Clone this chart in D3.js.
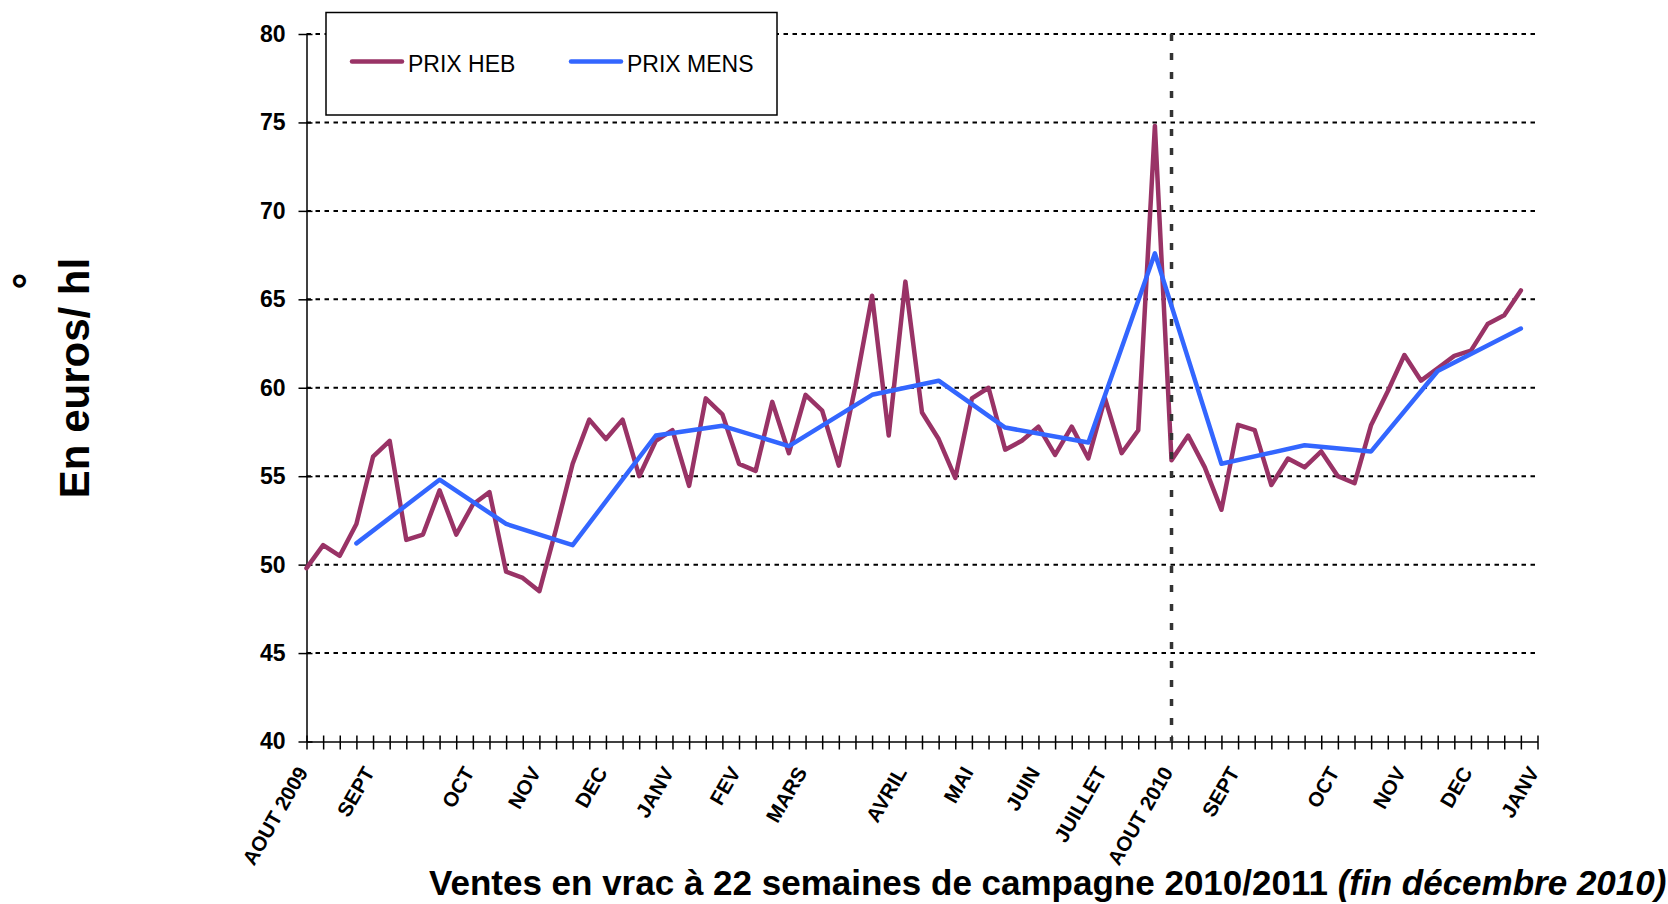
<!DOCTYPE html>
<html>
<head>
<meta charset="utf-8">
<script src="https://cdn.jsdelivr.net/npm/d3@7"></script>
<style>
    body { margin: 0; background: #ffffff; }
    svg { display: block; font-family: "Liberation Sans", Arial, sans-serif; }
</style>
</head>
<body>
<svg id="chart"></svg>
<script>
/**
 * Draw the chart on window load
 */
window.onload = function(){
    setupChart();
};

// weekly price (PRIX HEB), one value per week from AOUT 2009
const HEB_PRICES = [
    49.8, 51.1, 50.5, 52.3, 56.1, 57.0, 51.4, 51.7, 54.2, 51.7,
    53.4, 54.1, 49.6, 49.25, 48.5, 52.0, 55.7, 58.2, 57.1, 58.2,
    55.0, 57.0, 57.6, 54.45, 59.4, 58.5, 55.7, 55.3, 59.2, 56.3,
    59.6, 58.7, 55.6, 60.1, 65.2, 57.3, 66.0, 58.6, 57.1, 54.9,
    59.4, 60.0, 56.5, 57.0, 57.8, 56.2, 57.8, 56.0, 59.4, 56.3,
    57.6, 74.8, 55.9, 57.3, 55.5, 53.1, 57.9, 57.6, 54.5, 56.0,
    55.5, 56.4, 55.0, 54.6, 57.9, 59.8, 61.85, 60.4, 61.1, 61.8,
    62.1, 63.6, 64.1, 65.5
];

// monthly price (PRIX MENS), placed on the week it belongs to
const MENS_WEEKS = [3, 8, 12, 16, 21, 25, 29, 34, 38, 42, 47, 51, 55, 60, 64, 68, 73];
const MENS_PRICES = [51.2, 54.8, 52.3, 51.1, 57.3, 57.85, 56.7, 59.6, 60.4, 57.75, 56.9, 67.6, 55.7, 56.75, 56.4, 60.95, 63.35];

const MONTH_LABELS = ["AOUT 2009", "SEPT", "OCT", "NOV", "DEC", "JANV", "FEV", "MARS", "AVRIL",
    "MAI", "JUIN", "JUILLET", "AOUT 2010", "SEPT", "OCT", "NOV", "DEC", "JANV"];
const MONTH_WEEKS = [0, 4, 10, 14, 18, 22, 26, 30, 36, 40, 44, 48, 52, 56, 62, 66, 70, 74];

const Y_TICKS = [40, 45, 50, 55, 60, 65, 70, 75, 80];
const NUM_WEEKS = 75;
const CAMPAIGN_WEEK = 52;

const SERIES_NAMES = ["PRIX HEB", "PRIX MENS"];

const WIDTH = 1668;
const HEIGHT = 904;
const LEFT = 306.5;
const RIGHT = 1537.5;
const TOP = 34;
const BOTTOM = 741.5;

const HEB_COLOUR = "#993366";
const MENS_COLOUR = "#3366ff";
const FONT = "'Liberation Sans', Arial, sans-serif";

let xScale = d3.scaleLinear()
    .domain([0, NUM_WEEKS - 1])
    .range([LEFT, RIGHT]);

let yScale = d3.scaleLinear()
    .domain([40, 80])
    .range([BOTTOM, TOP]);

function setupChart(){
    let svg = d3.select("#chart")
        .attr("width", WIDTH)
        .attr("height", HEIGHT);

    // horizontal dotted grid
    svg.append("g")
        .selectAll("line")
        .data(Y_TICKS.slice(1))
        .enter()
        .append("line")
        .attr("x1", LEFT)
        .attr("x2", RIGHT)
        .attr("y1", function (d) { return yScale(d); })
        .attr("y2", function (d) { return yScale(d); })
        .attr("stroke", "#000")
        .attr("stroke-width", 2)
        .attr("stroke-dasharray", "4.5,4.5");

    // y axis
    let yAxis = svg.append("g")
        .attr("transform", "translate(" + LEFT + ",0)")
        .call(d3.axisLeft(yScale)
            .tickValues(Y_TICKS)
            .tickSizeInner(8)
            .tickSizeOuter(0)
            .tickPadding(13));
    yAxis.select(".domain").attr("stroke-width", 1.5);
    yAxis.selectAll(".tick line").attr("x1", 6).attr("stroke-width", 1.5);
    yAxis.selectAll(".tick text")
        .attr("font-family", FONT)
        .attr("font-size", "23px")
        .attr("font-weight", "bold")
        .attr("fill", "#000");

    // x axis with a tick on each week
    let xAxis = svg.append("g")
        .attr("transform", "translate(0," + BOTTOM + ")")
        .call(d3.axisBottom(xScale)
            .tickValues(d3.range(NUM_WEEKS))
            .tickSizeInner(8)
            .tickSizeOuter(0)
            .tickFormat(""));
    xAxis.select(".domain").attr("stroke-width", 1.5);
    xAxis.selectAll(".tick line").attr("y1", -6).attr("stroke-width", 1.5);

    // month labels
    svg.append("g")
        .selectAll("text")
        .data(MONTH_LABELS)
        .enter()
        .append("text")
        .text(function (d) { return d; })
        .attr("transform", function (d, i) {
            return "translate(" + (xScale(MONTH_WEEKS[i]) - 4) + "," + (BOTTOM + 27) + ") rotate(-60)";
        })
        .attr("dy", "0.35em")
        .attr("font-family", FONT)
        .attr("font-size", "20.5px")
        .attr("font-weight", "bold")
        .style("text-anchor", "end");

    let line = d3.line()
        .x(function (d) { return xScale(d[0]); })
        .y(function (d) { return yScale(d[1]); });

    let hebPoints = HEB_PRICES.map(function (v, i) { return [i, v]; });
    let mensPoints = MENS_WEEKS.map(function (w, i) { return [w, MENS_PRICES[i]]; });

    svg.append("path")
        .datum(hebPoints)
        .attr("d", line)
        .attr("fill", "none")
        .attr("stroke", HEB_COLOUR)
        .attr("stroke-width", 4.5)
        .attr("stroke-linejoin", "round")
        .attr("stroke-linecap", "round");

    // start of the 2010/2011 campaign
    svg.append("line")
        .attr("x1", xScale(CAMPAIGN_WEEK))
        .attr("x2", xScale(CAMPAIGN_WEEK))
        .attr("y1", TOP)
        .attr("y2", BOTTOM)
        .attr("stroke", "#333")
        .attr("stroke-width", 3.5)
        .attr("stroke-dasharray", "7,12");

    svg.append("path")
        .datum(mensPoints)
        .attr("d", line)
        .attr("fill", "none")
        .attr("stroke", MENS_COLOUR)
        .attr("stroke-width", 4.5)
        .attr("stroke-linejoin", "round")
        .attr("stroke-linecap", "round");

    drawLegend(svg);
    drawTitles(svg);
}

function drawLegend(svg){
    let legend = svg.append("g");
    legend.append("rect")
        .attr("x", 326)
        .attr("y", 12.5)
        .attr("width", 451)
        .attr("height", 102.5)
        .attr("fill", "#fff")
        .attr("stroke", "#000")
        .attr("stroke-width", 1.5);

    let colours = [HEB_COLOUR, MENS_COLOUR];
    let starts = [352, 571];
    let item = legend.selectAll("g.item")
        .data(SERIES_NAMES)
        .enter()
        .append("g")
        .attr("class", "item")
        .attr("transform", function (d, i) {
            return "translate(" + starts[i] + ",61.5)";
        });
    item.append("line")
        .attr("x1", 0)
        .attr("x2", 50)
        .attr("stroke", function (d, i) { return colours[i]; })
        .attr("stroke-width", 4.5)
        .attr("stroke-linecap", "round");
    item.append("text")
        .text(function (d) { return d; })
        .attr("x", 56)
        .attr("y", 10)
        .attr("font-family", FONT)
        .attr("font-size", "23px");
}

function drawTitles(svg){
    svg.append("text")
        .text("En euros/ hl")
        .attr("transform", "translate(89,378) rotate(-90)")
        .attr("font-family", FONT)
        .attr("font-size", "42px")
        .attr("font-weight", "bold")
        .style("text-anchor", "middle");

    svg.append("text")
        .text("°")
        .attr("transform", "translate(43,281) rotate(-90)")
        .attr("font-family", FONT)
        .attr("font-size", "42px")
        .attr("font-weight", "bold")
        .style("text-anchor", "middle");

    let title = svg.append("text")
        .attr("x", 429)
        .attr("y", 895)
        .attr("font-family", FONT)
        .attr("font-size", "35px")
        .attr("font-weight", "bold");
    title.append("tspan")
        .text("Ventes en vrac à 22 semaines de campagne 2010/2011 ");
    title.append("tspan")
        .attr("font-style", "italic")
        .text("(fin décembre 2010)");
}
</script>
</body>
</html>
